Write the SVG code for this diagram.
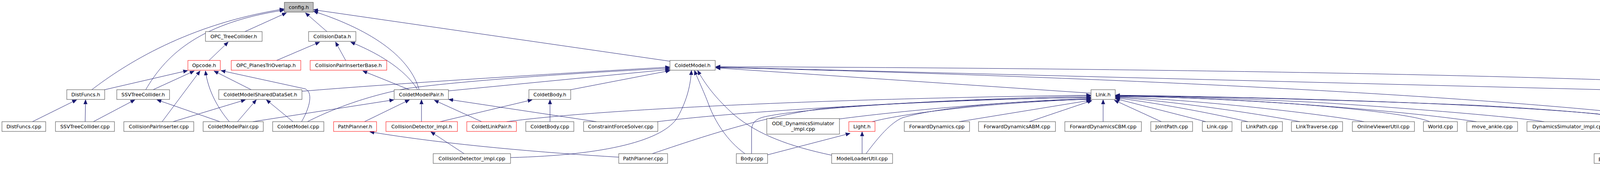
<svg xmlns="http://www.w3.org/2000/svg" width="5007" height="500" viewBox="0 0 5007 500">
<style>
.n rect{fill:#fff;stroke:#404040;stroke-width:1}
.n.r rect{stroke:#ff0000}
.n.g rect{fill:#bfbfbf}
.n text{font-family:"DejaVu Sans","Liberation Sans",sans-serif;font-size:12.8px;fill:#000;text-anchor:middle}
#edges path{fill:none;stroke:#191970;stroke-width:1;marker-end:url(#a)}
</style>
<defs>
<marker id="a" markerUnits="userSpaceOnUse" markerWidth="12" markerHeight="10" viewBox="0 0 12 10" refX="11" refY="5" orient="auto">
<path d="M0,0.5 L11,5 L0,9.5 z" fill="#191970" stroke="#191970" stroke-width="1"/>
</marker>
</defs>
<rect x="0" y="0" width="5007" height="500" fill="#fff"/>
<g id="edges">
<path d="M235,230 C320,165 480,62 727,23"/>
<path d="M373,230 C420,150 500,60 727,26"/>
<path d="M627,81 L733,33"/>
<path d="M837,81 L782,33"/>
<path d="M1073,230 C1050,150 960,80 803,29"/>
<path d="M1715,157 L803,25"/>
<path d="M708,155 L818,108"/>
<path d="M885,155 L859,108"/>
<path d="M1069,230 C1045,190 990,145 898,108"/>
<path d="M535,155 L584,108"/>
<path d="M268,230 L480,181"/>
<path d="M392,230 L497,182"/>
<path d="M415,312 L512,182"/>
<path d="M587,312 C560,280 533,235 526,182"/>
<path d="M643,230 L548,182"/>
<path d="M772,312 C788,285 805,240 782,228 L566,181"/>
<path d="M83,312 L196,256"/>
<path d="M218,312 L219,256"/>
<path d="M239,312 L345,256"/>
<path d="M563,312 L402,256"/>
<path d="M443,312 L628,256"/>
<path d="M608,312 L656,256"/>
<path d="M750,312 L682,256"/>
<path d="M773,234 C1000,215 1400,190 1714,172"/>
<path d="M787,312 C830,290 920,250 1040,227 C1200,205 1500,186 1714,175"/>
<path d="M647,312 L1008,256"/>
<path d="M1148,233 L1714,178"/>
<path d="M1461,230 L1715,181"/>
<path d="M1048,230 L929,182"/>
<path d="M933,312 L1048,256"/>
<path d="M1079,312 L1079,256"/>
<path d="M1233,312 L1112,257"/>
<path d="M1527,312 L1149,255"/>
<path d="M1127,312 L1362,256"/>
<path d="M1408,312 L1408,256"/>
<path d="M1188,394 L1103,338"/>
<path d="M1584,403 C1400,392 1150,372 947,338"/>
<path d="M1307,404 C1550,398 1700,360 1735,300 C1760,255 1768,215 1770,181"/>
<path d="M1907,394 C1860,360 1830,310 1815,270 C1800,230 1785,200 1778,181"/>
<path d="M2129,398 C2020,375 1940,345 1880,295 C1830,250 1805,215 1786,181"/>
<path d="M2793,239 L1833,174"/>
<path d="M4887,312 C4800,277 4680,234 4600,226 C4100,195 3000,175 1833,171"/>
<path d="M4459,239 L1833,172"/>
<path d="M4340,312 C4000,260 3000,200 1833,173"/>
<path d="M1297,312 C1500,285 2000,255 2792,244"/>
<path d="M1924,394 L1924,335 C1924,315 1935,305 1955,300 C2050,278 2400,255 2792,246"/>
<path d="M1683,312 C1900,285 2350,258 2792,249"/>
<path d="M1670,394 C1800,350 1950,300 2100,279 C2300,262 2550,253 2792,250"/>
<path d="M2149,305 C2300,285 2550,262 2792,252"/>
<path d="M2233,312 C2300,294 2500,265 2792,254"/>
<path d="M2217,394 C2250,350 2280,315 2310,302 C2400,275 2600,258 2792,255"/>
<path d="M2455,312 L2792,257"/>
<path d="M2635,312 L2795,258"/>
<path d="M2824,312 L2824,256"/>
<path d="M2973,312 L2853,257"/>
<path d="M3087,312 L2856,253"/>
<path d="M3195,312 C3100,290 2950,262 2856,251"/>
<path d="M3328,312 C3200,288 3000,260 2856,249"/>
<path d="M3492,312 C3400,295 3100,258 2856,248"/>
<path d="M3660,312 C3600,285 3200,250 2856,247"/>
<path d="M3780,312 C3600,285 3200,252 2856,246"/>
<path d="M3953,312 C3850,296 3500,270 3360,262 C3150,252 3000,247 2856,245"/>
<path d="M4212,312 C4160,296 4000,282 3780,270 C3400,255 3100,248 2856,245"/>
<path d="M4161,394 C4161,340 4150,305 4090,292 C3800,266 3300,250 2856,244"/>
<path d="M4403,312 L4507,257"/>
<path d="M4537,312 L4537,256"/>
<path d="M4688,312 L4573,257"/>
<path d="M4860,312 C4780,292 4690,278 4600,257"/>
<path d="M4190,394 C4200,388 4215,384 4230,380 L4340,342"/>
<path d="M4342,394 L4370,342"/>
<path d="M4492,469 L4394,342"/>
<path d="M4533,394 L4414,342"/>
<path d="M4555,394 L4541,339"/>
<path d="M4510,469 L4544,421"/>
<path d="M4610,394 C4618,392 4625,390 4632,389 L4858,339"/>
<path d="M1965,397 L2176,342"/>
<path d="M2207,394 L2207,338"/>
</g>
<g id="n-config-h" class="n g"><rect x="728" y="6" width="74" height="25"/><text x="765" y="22.5">config.h</text></g>
<g id="n-OPC_TreeCollider-h" class="n"><rect x="526" y="81" width="145" height="25"/><text x="598.5" y="97.5">OPC_TreeCollider.h</text></g>
<g id="n-CollisionData-h" class="n"><rect x="790" y="81" width="121" height="25"/><text x="850.5" y="97.5">CollisionData.h</text></g>
<g id="n-Opcode-h" class="n r"><rect x="481" y="155" width="83" height="25"/><text x="522.5" y="171.5">Opcode.h</text></g>
<g id="n-OPC_PlanesTriOverlap-h" class="n r"><rect x="592" y="155" width="178" height="25"/><text x="681" y="171.5">OPC_PlanesTriOverlap.h</text></g>
<g id="n-CollisionPairInserterBase-h" class="n r"><rect x="794" y="155" width="196" height="25"/><text x="892" y="171.5">CollisionPairInserterBase.h</text></g>
<g id="n-ColdetModel-h" class="n"><rect x="1715" y="155" width="116" height="25"/><text x="1773" y="171.5">ColdetModel.h</text></g>
<g id="n-DistFuncs-h" class="n"><rect x="171" y="230" width="97" height="25"/><text x="219.5" y="246.5">DistFuncs.h</text></g>
<g id="n-SSVTreeCollider-h" class="n"><rect x="299" y="230" width="135" height="25"/><text x="366.5" y="246.5">SSVTreeCollider.h</text></g>
<g id="n-ColdetModelSharedDataSet-h" class="n"><rect x="560" y="230" width="213" height="25"/><text x="666.5" y="246.5">ColdetModelSharedDataSet.h</text></g>
<g id="n-ColdetModelPair-h" class="n"><rect x="1009" y="230" width="139" height="25"/><text x="1078.5" y="246.5">ColdetModelPair.h</text></g>
<g id="n-ColdetBody-h" class="n"><rect x="1354" y="230" width="107" height="25"/><text x="1407.5" y="246.5">ColdetBody.h</text></g>
<g id="n-Link-h" class="n"><rect x="2793" y="230" width="62" height="25"/><text x="2824" y="246.5">Link.h</text></g>
<g id="n-ShapeSetInfo_impl-h" class="n"><rect x="4459" y="230" width="156" height="25"/><text x="4537" y="246.5">ShapeSetInfo_impl.h</text></g>
<g id="n-DistFuncs-cpp" class="n"><rect x="5" y="312" width="112" height="25"/><text x="61" y="328.5">DistFuncs.cpp</text></g>
<g id="n-SSVTreeCollider-cpp" class="n"><rect x="142" y="312" width="151" height="25"/><text x="217.5" y="328.5">SSVTreeCollider.cpp</text></g>
<g id="n-CollisionPairInserter-cpp" class="n"><rect x="317" y="312" width="179" height="25"/><text x="406.5" y="328.5">CollisionPairInserter.cpp</text></g>
<g id="n-ColdetModelPair-cpp" class="n"><rect x="520" y="312" width="154" height="25"/><text x="597" y="328.5">ColdetModelPair.cpp</text></g>
<g id="n-ColdetModel-cpp" class="n"><rect x="698" y="312" width="131" height="25"/><text x="763.5" y="328.5">ColdetModel.cpp</text></g>
<g id="n-PathPlanner-h" class="n r"><rect x="854" y="312" width="110" height="25"/><text x="909" y="328.5">PathPlanner.h</text></g>
<g id="n-CollisionDetector_impl-h" class="n r"><rect x="988" y="312" width="183" height="25"/><text x="1079.5" y="328.5">CollisionDetector_impl.h</text></g>
<g id="n-ColdetLinkPair-h" class="n r"><rect x="1195" y="312" width="127" height="25"/><text x="1258.5" y="328.5">ColdetLinkPair.h</text></g>
<g id="n-ColdetBody-cpp" class="n"><rect x="1346" y="312" width="123" height="25"/><text x="1407.5" y="328.5">ColdetBody.cpp</text></g>
<g id="n-ConstraintForceSolver-cpp" class="n"><rect x="1494" y="312" width="190" height="25"/><text x="1589" y="328.5">ConstraintForceSolver.cpp</text></g>
<g id="n-ODE_DynamicsSimulator_impl-cpp" class="n"><rect x="1963" y="304" width="186" height="40"/><text x="2056" y="321">ODE_DynamicsSimulator</text><text x="2056" y="335">_impl.cpp</text></g>
<g id="n-Light-h" class="n r"><rect x="2173" y="312" width="67" height="25"/><text x="2206.5" y="328.5">Light.h</text></g>
<g id="n-ForwardDynamics-cpp" class="n"><rect x="2315" y="312" width="167" height="25"/><text x="2398.5" y="328.5">ForwardDynamics.cpp</text></g>
<g id="n-ForwardDynamicsABM-cpp" class="n"><rect x="2505" y="312" width="197" height="25"/><text x="2603.5" y="328.5">ForwardDynamicsABM.cpp</text></g>
<g id="n-ForwardDynamicsCBM-cpp" class="n"><rect x="2726" y="312" width="196" height="25"/><text x="2824" y="328.5">ForwardDynamicsCBM.cpp</text></g>
<g id="n-JointPath-cpp" class="n"><rect x="2946" y="312" width="107" height="25"/><text x="2999.5" y="328.5">JointPath.cpp</text></g>
<g id="n-Link-cpp" class="n"><rect x="3078" y="312" width="76" height="25"/><text x="3116" y="328.5">Link.cpp</text></g>
<g id="n-LinkPath-cpp" class="n"><rect x="3178" y="312" width="105" height="25"/><text x="3230.5" y="328.5">LinkPath.cpp</text></g>
<g id="n-LinkTraverse-cpp" class="n"><rect x="3306" y="312" width="131" height="25"/><text x="3371.5" y="328.5">LinkTraverse.cpp</text></g>
<g id="n-OnlineViewerUtil-cpp" class="n"><rect x="3462" y="312" width="159" height="25"/><text x="3541.5" y="328.5">OnlineViewerUtil.cpp</text></g>
<g id="n-World-cpp" class="n"><rect x="3644" y="312" width="87" height="25"/><text x="3687.5" y="328.5">World.cpp</text></g>
<g id="n-move_ankle-cpp" class="n"><rect x="3755" y="312" width="130" height="25"/><text x="3820" y="328.5">move_ankle.cpp</text></g>
<g id="n-DynamicsSimulator_impl-cpp" class="n"><rect x="3909" y="312" width="214" height="25"/><text x="4016" y="328.5">DynamicsSimulator_impl.cpp</text></g>
<g id="n-ODE_Link-h" class="n r"><rect x="4197" y="312" width="96" height="25"/><text x="4245" y="328.5">ODE_Link.h</text></g>
<g id="n-BodyInfo_impl-h" class="n"><rect x="4317" y="312" width="128" height="25"/><text x="4381" y="328.5">BodyInfo_impl.h</text></g>
<g id="n-SceneInfo_impl-h" class="n r"><rect x="4469" y="312" width="136" height="25"/><text x="4537" y="328.5">SceneInfo_impl.h</text></g>
<g id="n-ShapeSetInfo_impl-cpp" class="n"><rect x="4629" y="312" width="171" height="25"/><text x="4714.5" y="328.5">ShapeSetInfo_impl.cpp</text></g>
<g id="n-BodyInfoCollada_impl-h" class="n r"><rect x="4824" y="312" width="178" height="25"/><text x="4913" y="328.5">BodyInfoCollada_impl.h</text></g>
<g id="n-CollisionDetector_impl-cpp" class="n"><rect x="1109" y="394" width="198" height="25"/><text x="1208" y="410.5">CollisionDetector_impl.cpp</text></g>
<g id="n-PathPlanner-cpp" class="n"><rect x="1584" y="394" width="125" height="25"/><text x="1646.5" y="410.5">PathPlanner.cpp</text></g>
<g id="n-Body-cpp" class="n"><rect x="1885" y="394" width="80" height="25"/><text x="1925" y="410.5">Body.cpp</text></g>
<g id="n-ModelLoaderUtil-cpp" class="n"><rect x="2129" y="394" width="156" height="25"/><text x="2207" y="410.5">ModelLoaderUtil.cpp</text></g>
<g id="n-projectGenerator-cpp" class="n"><rect x="4081" y="394" width="158" height="25"/><text x="4160" y="410.5">projectGenerator.cpp</text></g>
<g id="n-BodyInfo_impl-cpp" class="n"><rect x="4263" y="394" width="143" height="25"/><text x="4334.5" y="410.5">BodyInfo_impl.cpp</text></g>
<g id="n-ModelLoader_impl-h" class="n r"><rect x="4481" y="394" width="155" height="25"/><text x="4558.5" y="410.5">ModelLoader_impl.h</text></g>
<g id="n-exportCollada-cpp" class="n"><rect x="4431" y="469" width="140" height="25"/><text x="4501" y="485.5">exportCollada.cpp</text></g>
</svg>
